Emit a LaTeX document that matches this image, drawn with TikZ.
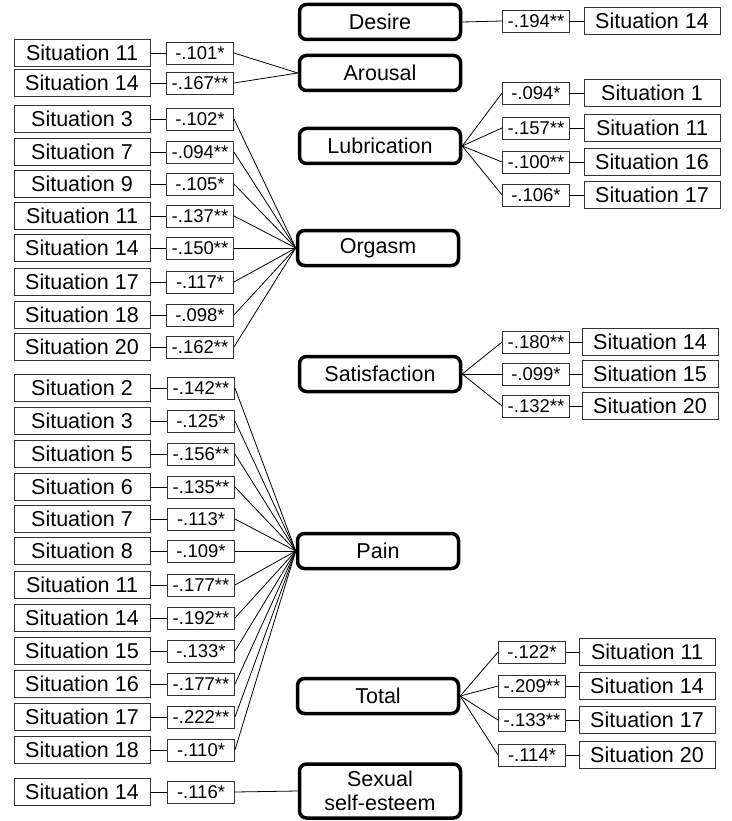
\documentclass[tikz,border=0pt]{standalone}
\usepackage{fontspec}
\setmainfont{Liberation Sans}
\usepackage{tikz}

\tikzset{
  factor/.style={draw, line width=3.5pt, rounded corners=7pt, minimum width=161pt, minimum height=35pt, inner sep=0pt, align=center, font=\fontsize{21.5}{24}\selectfont},
  situation/.style={draw=black!80, line width=0.9pt, minimum width=136pt, minimum height=27pt, inner sep=0pt, font=\fontsize{21.5}{24}\selectfont},
  coef/.style={draw=black!80, line width=0.9pt, minimum width=67pt, minimum height=22pt, inner sep=0pt, font=\fontsize{18.5}{20}\selectfont},
  link/.style={line width=0.8pt}
}

\begin{document}
\begin{tikzpicture}[x=1pt,y=-1pt]
\useasboundingbox (0,0) rectangle (731,821);

\node[factor] (desire) at (380,22) {Desire};
\node[factor] (arousal) at (380,73) {Arousal};
\node[factor] (lubrication) at (380,146) {Lubrication};
\node[factor] (orgasm) at (378,248) {Orgasm};
\node[factor] (satisfaction) at (380,374) {Satisfaction};
\node[factor] (pain) at (378,551) {Pain};
\node[factor] (total) at (378,696) {Total};
\node[factor, minimum height=54pt] (esteem) at (380,791) {Sexual\\self-esteem};

\node[coef] (desC1) at (536,21) {-.194**};
\node[situation] (desS1) at (652,21) {Situation 14};
\draw[link] (desire.east) -- (desC1.west);
\draw[link] (desC1) -- (desS1);

\foreach \y/\s/\v [count=\i] in {53/11/{-.101*}, 83/14/{-.167**}} {
  \node[situation] (aroS\i) at (82,\y) {Situation \s};
  \node[coef] (aroC\i) at (200,\y) {\v};
  \draw[link] (aroS\i) -- (aroC\i);
  \draw[link] (aroC\i.east) -- (arousal.west);
}

\foreach \y/\s/\v [count=\i] in {93/1/{-.094*}, 128/11/{-.157**}, 162/16/{-.100**}, 195/17/{-.106*}} {
  \node[coef] (lubC\i) at (536,\y) {\v};
  \node[situation] (lubS\i) at (652,\y) {Situation \s};
  \draw[link] (lubC\i) -- (lubS\i);
  \draw[link] (lubrication.east) -- (lubC\i.west);
}

\foreach \y/\s/\v [count=\i] in {119/3/{-.102*}, 152/7/{-.094**}, 184/9/{-.105*}, 216/11/{-.137**},
    248/14/{-.150**}, 282/17/{-.117*}, 315/18/{-.098*}, 347/20/{-.162**}} {
  \node[situation] (orgS\i) at (82,\y) {Situation \s};
  \node[coef] (orgC\i) at (200,\y) {\v};
  \draw[link] (orgS\i) -- (orgC\i);
  \draw[link] (orgC\i.east) -- (orgasm.west);
}

\foreach \y/\s/\v [count=\i] in {342/14/{-.180**}, 374/15/{-.099*}, 406/20/{-.132**}} {
  \node[coef] (satC\i) at (536,\y) {\v};
  \node[situation] (satS\i) at (650,\y) {Situation \s};
  \draw[link] (satC\i) -- (satS\i);
  \draw[link] (satisfaction.east) -- (satC\i.west);
}

\foreach \y/\s/\v [count=\i] in {388/2/{-.142**}, 421/3/{-.125*}, 454/5/{-.156**}, 487/6/{-.135**},
    519/7/{-.113*}, 551/8/{-.109*}, 585/11/{-.177**}, 618/14/{-.192**},
    651/15/{-.133*}, 684/16/{-.177**}, 717/17/{-.222**}, 750/18/{-.110*}} {
  \node[situation] (paiS\i) at (82,\y) {Situation \s};
  \node[coef] (paiC\i) at (201,\y) {\v};
  \draw[link] (paiS\i) -- (paiC\i);
  \draw[link] (paiC\i.east) -- (pain.west);
}

\foreach \y/\s/\v [count=\i] in {652/11/{-.122*}, 686/14/{-.209**}, 720/17/{-.133**}, 755/20/{-.114*}} {
  \node[coef] (totC\i) at (532,\y) {\v};
  \node[situation] (totS\i) at (647,\y) {Situation \s};
  \draw[link] (totC\i) -- (totS\i);
  \draw[link] (total.east) -- (totC\i.west);
}

\node[situation] (estS1) at (82,792) {Situation 14};
\node[coef] (estC1) at (201,792) {-.116*};
\draw[link] (estS1) -- (estC1);
\draw[link] (estC1.east) -- (esteem.west);
\end{tikzpicture}
\end{document}
